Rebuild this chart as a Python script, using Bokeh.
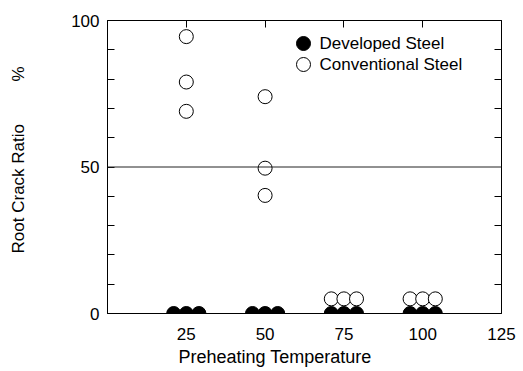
from bokeh.plotting import figure
from bokeh.models import (Range1d, LinearAxis, FixedTicker, Span, Label, Title,
                          CustomJSTickFormatter)
from bokeh.embed import file_html
from bokeh.resources import INLINE

# ---- data ----
developed_x = [21, 25, 29, 46, 50, 54, 71, 75, 79, 96, 100, 104]
developed_y = [0, 0, 0, 0, 0, 0, 0, 0, 0, 0, 0, 0]
conventional_x = [25, 25, 25, 50, 50, 50, 71, 75, 79, 96, 100, 104]
conventional_y = [94.5, 79, 69, 74, 49.6, 40.3, 5, 5, 5, 5, 5, 5]
x_tick_values = [25, 50, 75, 100, 125]
y_tick_values = [0, 50, 100]
y_minor_values = [10, 20, 30, 40, 60, 70, 80, 90]
series_names = ["Developed Steel", "Conventional Steel"]
x_title = "Preheating Temperature"
y_title = "Root Crack Ratio"
y_unit = "%"

FONT = "Liberation Sans"
W, H = 523, 371
L, R, T, B = 107, 22, 20, 58
X0, X1, Y0, Y1 = 0, 125, 0, 100
fw, fh = W - L - R, H - T - B


def dx(px):
    return X0 + (px - L) / fw * (X1 - X0)


def dy(py):
    return Y0 + (T + fh - py) / fh * (Y1 - Y0)


p = figure(width=W, height=H, x_range=Range1d(X0, X1), y_range=Range1d(Y0, Y1),
           output_backend="svg", toolbar_location=None,
           x_axis_location=None, y_axis_location=None,
           min_border_left=L, min_border_right=R, min_border_top=T,
           min_border_bottom=B)
p.xgrid.visible = False
p.ygrid.visible = False
p.outline_line_color = "black"
p.outline_line_width = 1
p.background_fill_color = "white"
p.border_fill_color = "white"

blank = CustomJSTickFormatter(code="return ''")

NB = "\u00a0"
left = LinearAxis(ticker=FixedTicker(ticks=y_tick_values, minor_ticks=y_minor_values),
                  major_tick_in=7, major_tick_out=0, minor_tick_in=7, minor_tick_out=0,
                  major_label_standoff=8, major_label_text_font=FONT,
                  major_label_text_font_size="17px", major_label_text_color="black",
                  axis_line_color="black",
                  axis_label=NB * 3 + y_title + NB * 9 + y_unit,
                  axis_label_text_font=FONT, axis_label_text_font_size="17px",
                  axis_label_text_font_style="normal", axis_label_text_color="black",
                  axis_label_standoff=40)
p.add_layout(left, "left")

bottom = LinearAxis(ticker=FixedTicker(ticks=x_tick_values),
                    major_tick_in=0, major_tick_out=0, minor_tick_in=0, minor_tick_out=0,
                    major_label_standoff=14, major_label_text_font=FONT,
                    major_label_text_font_size="17px", major_label_text_color="black",
                    axis_line_color="black")
p.add_layout(bottom, "below")

p.add_layout(Title(text=x_title, align="left", offset=71, standoff=5,
                   vertical_align="bottom",
                   text_font=FONT, text_font_size="18px", text_font_style="normal",
                   text_color="black"), "below")

top = LinearAxis(ticker=FixedTicker(ticks=x_tick_values[:-1]), formatter=blank,
                 major_tick_in=7, major_tick_out=0, minor_tick_in=0, minor_tick_out=0,
                 major_label_text_font_size="0px", axis_line_color="black")
p.add_layout(top, "above")

right = LinearAxis(ticker=FixedTicker(ticks=y_minor_values), formatter=blank,
                   major_tick_in=7, major_tick_out=0, minor_tick_in=0, minor_tick_out=0,
                   major_label_text_font_size="0px", axis_line_color="black")
p.add_layout(right, "right")

p.add_layout(Span(location=50, dimension="width", line_color="#222222", line_width=1))

p.scatter(developed_x, developed_y, size=14, marker="circle",
          fill_color="black", line_color="black")
p.scatter(conventional_x, conventional_y, size=14, marker="circle",
          fill_color="white", line_color="black", line_width=1)

# legend
lx_mark, lx_text = dx(303), dx(319)
ly = [dy(43), dy(64)]
p.scatter([lx_mark], [ly[0]], size=14, marker="circle", fill_color="black", line_color="black")
p.scatter([lx_mark], [ly[1]], size=14, marker="circle", fill_color="white", line_color="black")
for name, yy in zip(series_names, ly):
    p.add_layout(Label(x=lx_text, y=yy, text=name, text_font=FONT, text_font_size="17px",
                       text_baseline="middle", text_align="left", text_color="black"))

open("out.html", "w").write(file_html(p, INLINE))
